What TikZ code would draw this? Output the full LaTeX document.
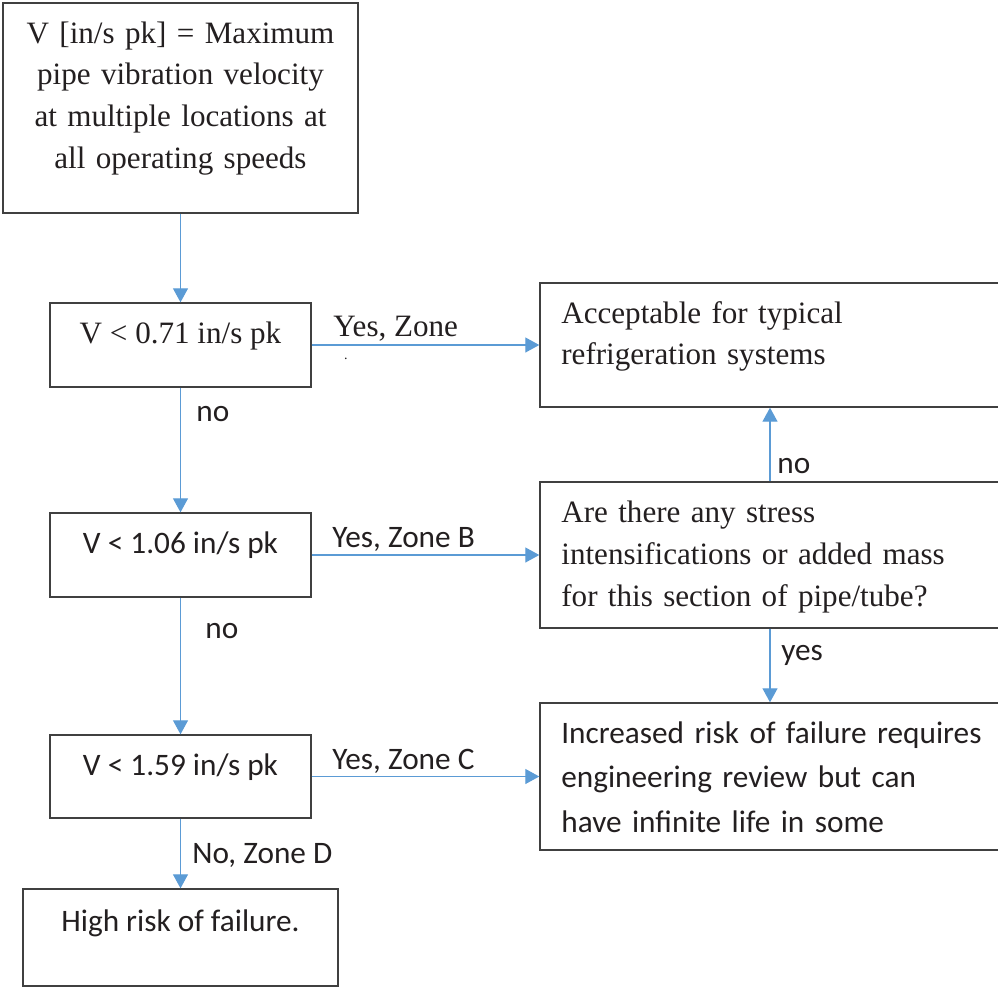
\documentclass[tikz,border=0pt]{standalone}
\usepackage{fontspec}
\setmainfont{Liberation Serif}
\newfontfamily\carlito{Carlito}
\usepackage{tikz}
\usetikzlibrary{arrows.meta,fit}
\definecolor{flechaazul}{RGB}{91,155,213}
\definecolor{borde}{RGB}{64,64,64}
\definecolor{tinta}{RGB}{35,31,32}

\begin{document}
\begin{tikzpicture}[x=0.02cm, y=-0.02cm, text=tinta,
    caja/.style={draw=borde, line width=0.8pt, inner sep=0pt},
    flecha/.style={draw=flechaazul, line width=0.7pt, -{Triangle[length=0.28cm, width=0.3cm]}},
    serifa/.style={font=\fontsize{17.7}{23.8}\selectfont, inner sep=0pt},
    sans/.style={font=\carlito\fontsize{17.8}{24}\selectfont, inner sep=0pt}]
  \useasboundingbox (0,0) rectangle (998,987);
  \node[caja, fit={(3,3) (358,213)}] (inicio) {};
  \node[caja, fit={(50,303) (311,387)}] (v1) {};
  \node[caja, fit={(50,513) (311,597)}] (v2) {};
  \node[caja, fit={(50,735) (311,818)}] (v3) {};
  \node[caja, fit={(23,889) (338,986)}] (alto) {};
  \node[caja, fit={(540,283) (1000,407)}] (aceptable) {};
  \node[caja, fit={(540,482) (1000,628)}] (pregunta) {};
  \node[caja, fit={(540,703) (1000,850)}] (revision) {};
  \node[serifa, text width=6.6cm, align=center, anchor=base] (inicio-t) at (180.5,43)
    {V [in/s pk] = Maximum\\ pipe vibration velocity\\ at multiple locations at\\ all operating speeds};
  \node[serifa, anchor=base] (v1-t) at (180.5,343) {V < 0.71 in/s pk};
  \node[sans, anchor=base] (v2-t) at (180.5,553) {V < 1.06 in/s pk};
  \node[sans, anchor=base] (v3-t) at (180.5,775) {V < 1.59 in/s pk};
  \node[sans, anchor=base] (alto-t) at (180.5,931) {High risk of failure.};
  \node[serifa, text width=8.7cm, align=left, anchor=base west] (aceptable-t) at (561,323)
    {Acceptable for typical\\ refrigeration systems};
  \node[serifa, font=\fontsize{17.7}{24.1}\selectfont, text width=8.7cm, align=left, anchor=base west] (pregunta-t) at (561,522)
    {Are there any stress\\ intensifications or added mass\\ for this section of pipe/tube?};
  \node[sans, font=\carlito\fontsize{17.8}{25.5}\selectfont, text width=8.7cm, align=left, anchor=base west] (revision-t) at (561,743)
    {Increased risk of failure requires\\ engineering review but can\\ have infinite life in some};
  \draw[flecha] (inicio.south) -- (v1.north);
  \draw[flecha] (v1.south) -- (v2.north);
  \draw[flecha] (v2.south) -- (v3.north);
  \draw[flecha] (v3.south) -- (alto.north);
  \draw[flecha] (v1.east) -- (aceptable.west);
  \draw[flecha] (v2.east) -- (pregunta.west);
  \draw[flecha] (v3.east) -- (revision.west);
  \draw[flecha] (pregunta.north) -- (aceptable.south);
  \draw[flecha] (pregunta.south) -- (revision.north);
  \node[serifa, anchor=base west] (etq-a) at (333,336) {Yes, Zone};
  \node[anchor=base, inner sep=0pt, font=\fontsize{8}{10}\selectfont] (punto) at (346,359) {.};
  \node[sans, anchor=base west] (etq-no1) at (196,421) {no};
  \node[sans, anchor=base west] (etq-b) at (332,547) {Yes, Zone B};
  \node[sans, anchor=base west] (etq-no2) at (205,638) {no};
  \node[sans, anchor=base west] (etq-c) at (332,769) {Yes, Zone C};
  \node[sans, anchor=base west] (etq-d) at (192,863) {No, Zone D};
  \node[sans, anchor=base west] (etq-no3) at (777,473) {no};
  \node[sans, anchor=base west] (etq-si) at (781,660) {yes};
\end{tikzpicture}
\end{document}
